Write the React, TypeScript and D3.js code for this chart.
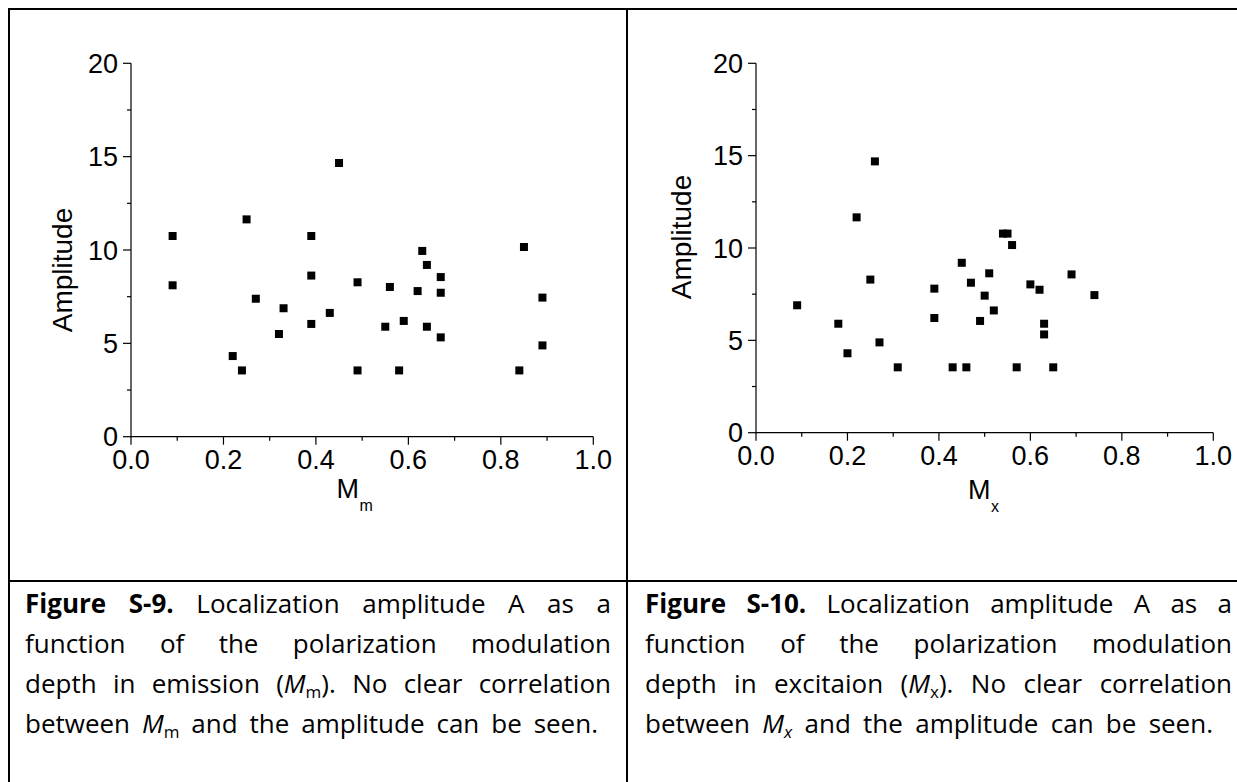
import React from "react";
import * as d3 from "d3";

// ---- data ----
const mmX = [0.09, 0.09, 0.22, 0.24, 0.25, 0.27, 0.32, 0.33, 0.39, 0.39, 0.39, 0.43, 0.45, 0.49, 0.49, 0.55, 0.56, 0.58, 0.59, 0.62, 0.63, 0.64, 0.64, 0.67, 0.67, 0.67, 0.84, 0.85, 0.89, 0.89];
const mmY = [10.75, 8.11, 4.32, 3.55, 11.64, 7.39, 5.5, 6.88, 10.75, 8.63, 6.04, 6.63, 14.66, 8.27, 3.55, 5.89, 8.02, 3.55, 6.2, 7.8, 9.95, 9.2, 5.89, 8.55, 7.71, 5.32, 3.55, 10.16, 7.45, 4.89];

const mxX = [0.09, 0.18, 0.2, 0.22, 0.25, 0.26, 0.27, 0.31, 0.39, 0.39, 0.43, 0.45, 0.46, 0.47, 0.49, 0.5, 0.51, 0.52, 0.54, 0.55, 0.56, 0.57, 0.6, 0.62, 0.63, 0.63, 0.65, 0.69, 0.74];
const mxY = [6.9, 5.9, 4.3, 11.66, 8.29, 14.69, 4.89, 3.54, 7.8, 6.21, 3.54, 9.2, 3.54, 8.12, 6.05, 7.42, 8.63, 6.62, 10.78, 10.78, 10.16, 3.54, 8.03, 7.74, 5.9, 5.32, 3.54, 8.57, 7.45];

const xMajorTicks = [0, 0.2, 0.4, 0.6, 0.8, 1.0];
const xMinorTicks = [0.1, 0.3, 0.5, 0.7, 0.9];
const yMajorTicks = [0, 5, 10, 15, 20];
const yMinorTicks = [2.5, 7.5, 12.5, 17.5];

type Run = { t: string; b?: boolean; i?: boolean; sub?: boolean };
type Word = Run[];
type Line = { words: Word[]; end: number | null };

const w = (t: string, o: Partial<Run> = {}): Word => [{ t, ...o }];
const ws = (s: string): Word[] => s.split(" ").map((t) => w(t));

const capLeft: Line[] = [
  { words: [w("Figure", { b: true }), w("S-9.", { b: true }), ...ws("Localization amplitude A as a")], end: 611 },
  { words: ws("function of the polarization modulation"), end: 611 },
  { words: [...ws("depth in emission"), [{ t: "(" }, { t: "M", i: true }, { t: "m", sub: true }, { t: ")." }], ...ws("No clear correlation")], end: 611 },
  { words: [w("between"), [{ t: "M", i: true }, { t: "m", sub: true }], ...ws("and the amplitude can be seen.")], end: 598 },
];
const capRight: Line[] = [
  { words: [w("Figure", { b: true }), w("S-10.", { b: true }), ...ws("Localization amplitude A as a")], end: 1232 },
  { words: ws("function of the polarization modulation"), end: 1232 },
  { words: [...ws("depth in excitaion"), [{ t: "(" }, { t: "M", i: true }, { t: "x", sub: true }, { t: ")." }], ...ws("No clear correlation")], end: 1232 },
  { words: [w("between"), [{ t: "M", i: true }, { t: "x", sub: true, i: true }], ...ws("and the amplitude can be seen.")], end: 1213 },
];

const CAP_FONT = '"Open Sans", "Noto Sans", sans-serif';
const CAP_SIZE = 26;
const SUB_SIZE = 17;
const AX_FONT = '"Liberation Sans", Arimo, Arial, sans-serif';

let ctx: CanvasRenderingContext2D | null = null;
function measure(r: Run): number {
  if (!ctx) ctx = document.createElement("canvas").getContext("2d");
  const size = r.sub ? SUB_SIZE : CAP_SIZE;
  ctx!.font = `${r.i ? "italic " : ""}${r.b ? "bold " : ""}${size}px ${CAP_FONT}`;
  return ctx!.measureText(r.t).width;
}

function Caption({ lines, x0, y0, lh }: { lines: Line[]; x0: number; y0: number; lh: number }) {
  const out: React.ReactNode[] = [];
  lines.forEach((line, li) => {
    const y = y0 + li * lh;
    const widths = line.words.map((wd) => wd.map(measure));
    const wordW = widths.map((a) => a.reduce((s, v) => s + v, 0));
    const total = wordW.reduce((s, v) => s + v, 0);
    const n = line.words.length;
    const space = measure({ t: " " });
    let gap = line.end !== null && n > 1 ? (line.end - x0 - total) / (n - 1) : space;
    if (gap < space * 0.6) gap = space * 0.6;
    let x = x0;
    line.words.forEach((wd, wi) => {
      let rx = x;
      wd.forEach((r, ri) => {
        out.push(
          <text
            key={`${li}-${wi}-${ri}`}
            x={rx}
            y={r.sub ? y + 5 : y}
            fontFamily={CAP_FONT}
            fontSize={r.sub ? SUB_SIZE : CAP_SIZE}
            fontWeight={r.b ? "bold" : "normal"}
            fontStyle={r.i ? "italic" : "normal"}
            fill="#000"
          >
            {r.t}
          </text>
        );
        rx += widths[wi][ri];
      });
      x += wordW[wi] + gap;
    });
  });
  return <g>{out}</g>;
}

function Scatter({
  xs, ys, x0, x1, y0, y1, sub, ylabX, ylabY, mX, mBase,
}: {
  xs: number[]; ys: number[]; x0: number; x1: number; y0: number; y1: number; sub: string;
  ylabX: number; ylabY: number; mX: number; mBase: number;
}) {
  const x = d3.scaleLinear().domain([0, 1]).range([x0, x1]);
  const y = d3.scaleLinear().domain([0, 20]).range([y0, y1]);
  const s = 8;
  return (
    <g>
      <line x1={x0} x2={x0} y1={y1} y2={y0 + 0.5} stroke="#000" strokeWidth={1.2} />
      <line x1={x0} x2={x1} y1={y0} y2={y0} stroke="#000" strokeWidth={1.2} />
      {yMajorTicks.map((t) => (
        <g key={"ym" + t}>
          <line x1={x0 - 8} x2={x0} y1={y(t)} y2={y(t)} stroke="#000" strokeWidth={1.2} />
          <text x={x0 - 13} y={y(t) + 9.7} textAnchor="end" fontFamily={AX_FONT} fontSize={27} fill="#000">
            {d3.format("d")(t)}
          </text>
        </g>
      ))}
      {yMinorTicks.map((t) => (
        <line key={"yn" + t} x1={x0 - 4} x2={x0} y1={y(t)} y2={y(t)} stroke="#000" strokeWidth={1.2} />
      ))}
      {xMajorTicks.map((t) => (
        <g key={"xm" + t}>
          <line x1={x(t)} x2={x(t)} y1={y0} y2={y0 + 8} stroke="#000" strokeWidth={1.2} />
          <text x={x(t)} y={y0 + 32} textAnchor="middle" fontFamily={AX_FONT} fontSize={27} fill="#000">
            {d3.format(".1f")(t)}
          </text>
        </g>
      ))}
      {xMinorTicks.map((t) => (
        <line key={"xn" + t} x1={x(t)} x2={x(t)} y1={y0} y2={y0 + 4} stroke="#000" strokeWidth={1.2} />
      ))}
      <text
        transform={`translate(${ylabX},${ylabY}) rotate(-90)`}
        textAnchor="middle"
        fontFamily={AX_FONT}
        fontSize={28}
        fill="#000"
      >
        Amplitude
      </text>
      <text x={mX} y={mBase} fontFamily={AX_FONT} fontSize={27} fill="#000">M</text>
      <text x={mX + 23} y={mBase + 13} fontFamily={AX_FONT} fontSize={16} fill="#000">{sub}</text>
      {xs.map((v, i) => (
        <rect key={i} x={x(v) - s / 2} y={y(ys[i]) - s / 2} width={s} height={s} fill="#000" />
      ))}
    </g>
  );
}

export default function App() {
  return (
    <svg
      width={1237}
      height={782}
      viewBox="0 0 1237 782"
      style={{ position: "absolute", left: 0, top: 0, display: "block", background: "#fff" }}
    >
      <rect x={0} y={0} width={1237} height={782} fill="#fff" />
      <rect x={8} y={8} width={1229} height={2} fill="#000" />
      <rect x={8} y={8} width={2} height={774} fill="#000" />
      <rect x={626} y={8} width={2} height={774} fill="#000" />
      <rect x={8} y={580} width={1229} height={2} fill="#000" />

      <Scatter xs={mmX} ys={mmY} x0={131} x1={593.3} y0={436.7} y1={63.3} sub="m" ylabX={72} ylabY={270} mX={336.5} mBase={498} />
      <Scatter xs={mxX} ys={mxY} x0={756} x1={1213.3} y0={432.7} y1={63.3} sub="x" ylabX={691} ylabY={237} mX={968} mBase={499} />

      <Caption lines={capLeft} x0={25} y0={613} lh={40} />
      <Caption lines={capRight} x0={645} y0={613} lh={40} />
    </svg>
  );
}
